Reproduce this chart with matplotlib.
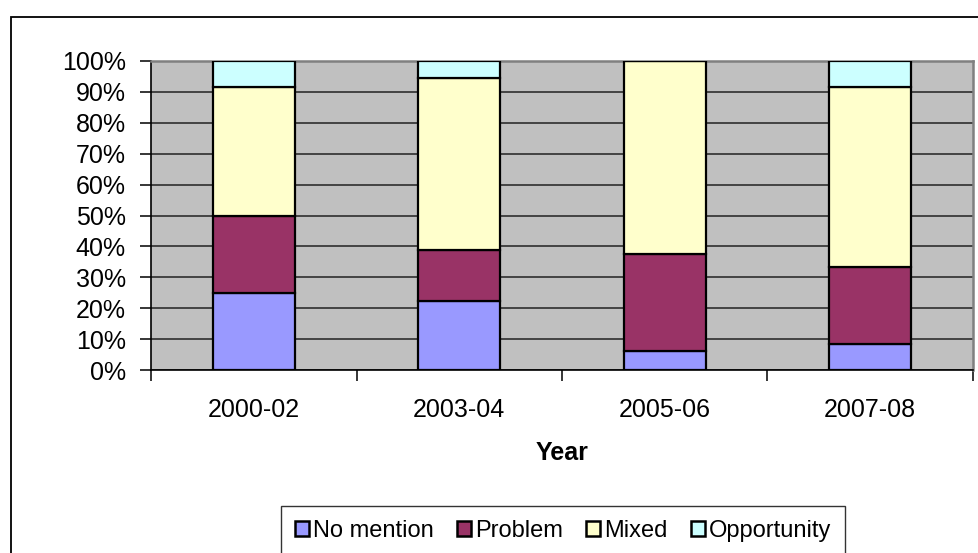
import numpy as np
import matplotlib.pyplot as plt
from matplotlib.patches import Patch, Rectangle
from matplotlib.ticker import FixedLocator, PercentFormatter

plt.rcParams['font.family'] = ['Liberation Sans', 'DejaVu Sans']

# Dados (percentuais por período)
years = ["2000-02", "2003-04", "2005-06", "2007-08"]
series = ["No mention", "Problem", "Mixed", "Opportunity"]
no_mention = [25.0, 22.2, 6.25, 8.3]
problem = [25.0, 16.7, 31.25, 25.0]
mixed = [41.7, 55.6, 62.5, 58.3]
opportunity = [8.3, 5.5, 0.0, 8.4]
cores = ["#9999FF", "#993366", "#FFFFCC", "#CCFFFF"]

W, H = 979, 553
fig = plt.figure(figsize=(W / 100, H / 100), dpi=100)

# moldura externa do gráfico (cortada à direita e embaixo)
fig.patches.append(Rectangle((11 / W, -0.05), 1.1, 1 - 17 / H + 0.05,
                             transform=fig.transFigure, fill=False,
                             edgecolor="#000000", linewidth=1.3, zorder=0))

ax = fig.add_axes([151 / W, 1 - 370 / H, (973 - 151) / W, (370 - 61) / H])
ax.set_facecolor("#C0C0C0")

x = np.arange(len(years))
base = np.zeros(len(years))
for nome, vals, cor in zip(series, [no_mention, problem, mixed, opportunity], cores):
    ax.bar(x, vals, width=0.4, bottom=base, color=cor, edgecolor="black",
           linewidth=1.6, label=nome, zorder=3)
    base += np.array(vals)

ax.set_xlim(-0.5, len(years) - 0.5)
ax.set_ylim(0, 100)
ax.set_yticks(np.arange(0, 101, 10))
ax.yaxis.set_major_formatter(PercentFormatter(decimals=0))
ax.yaxis.grid(True, color="#222222", linewidth=1.1, zorder=1)
ax.set_axisbelow(True)

ax.set_xticks(x)
ax.set_xticklabels(years)
ax.xaxis.set_minor_locator(FixedLocator(np.arange(-0.5, len(years), 1.0)))
ax.tick_params(axis="x", which="major", length=0, pad=20, labelsize=18)
ax.tick_params(axis="x", which="minor", length=8, width=1.1, color="black")
ax.tick_params(axis="y", length=8, width=1.1, pad=10, labelsize=18)

for s in ["top", "right"]:
    ax.spines[s].set_color("#808080")
    ax.spines[s].set_linewidth(1.8)
for s in ["left", "bottom"]:
    ax.spines[s].set_color("black")
    ax.spines[s].set_linewidth(1.2)

ax.set_xlabel("Year", fontsize=18, fontweight="bold", labelpad=14)

handles = [Patch(facecolor=c, edgecolor="black", linewidth=1.8) for c in cores]
leg = fig.legend(handles, series, loc="upper center",
                 bbox_to_anchor=(563 / W, 1 - 506 / H), ncol=4,
                 fontsize=17, frameon=True, fancybox=False,
                 handlelength=0.6, handleheight=0.6, handletextpad=0.15,
                 columnspacing=1.0, borderpad=0.6, borderaxespad=0)
leg.get_frame().set_edgecolor("black")
leg.get_frame().set_linewidth(1.0)

fig.savefig("out.png", dpi=100)
